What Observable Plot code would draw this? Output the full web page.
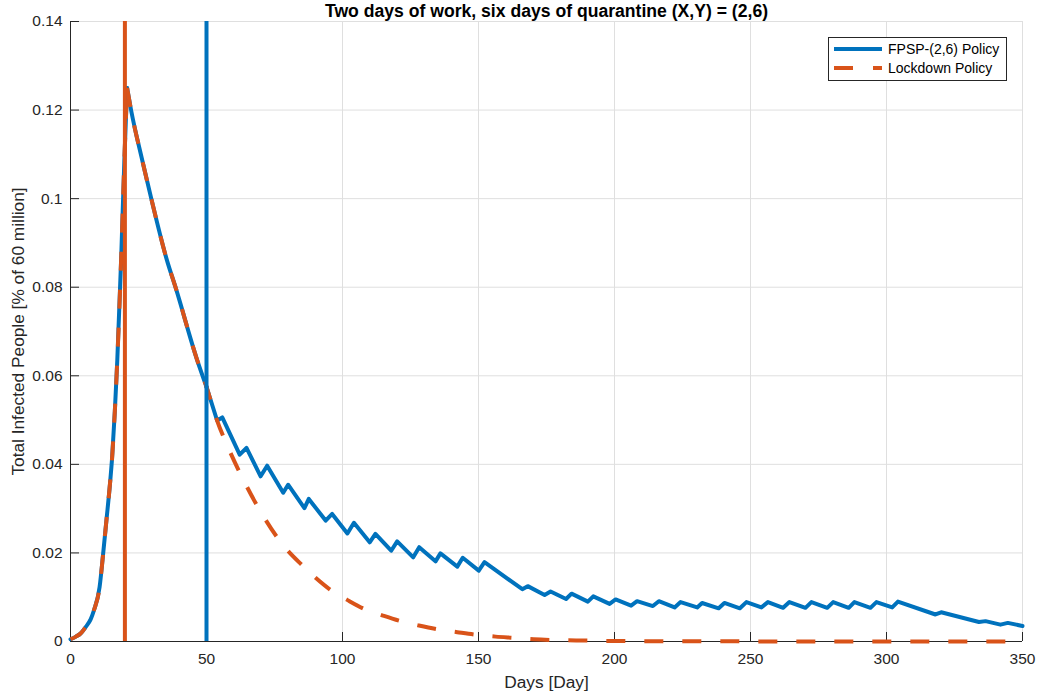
<!DOCTYPE html>
<html><head><meta charset="utf-8">
<script src="https://cdn.jsdelivr.net/npm/d3@7"></script>
<script src="https://cdn.jsdelivr.net/npm/@observablehq/plot@0.6"></script>
<style>
html,body{margin:0;padding:0;background:#fff;}
#wrap{position:relative;width:1037px;height:697px;}
#legend{position:absolute;left:828px;top:37px;width:177px;height:42px;border:1px solid #262626;background:#fff;font-family:"Liberation Sans",Arial,Helvetica,sans-serif;font-size:14px;color:#000;}
.row{position:absolute;left:0;height:18px;display:flex;align-items:center;white-space:nowrap;}
.row svg{margin-left:5px;margin-right:6px;}
</style></head><body><div id="wrap"><div id="legend"></div></div>
<script>
// ---- data ----
const titleText = "Two days of work, six days of quarantine (X,Y) = (2,6)";
const xLabel = "Days [Day]";
const yLabel = "Total Infected People [% of 60 million]";
const seriesNames = ["FPSP-(2,6) Policy", "Lockdown Policy"];
const xTicks = [0, 50, 100, 150, 200, 250, 300, 350];
const yTicks = [0, 0.02, 0.04, 0.06, 0.08, 0.1, 0.12, 0.14];
const yTickLabels = ["0", "0.02", "0.04", "0.06", "0.08", "0.1", "0.12", "0.14"];
const lockdownStartDay = 20;
const lockdownEndDay = 50;

// common part of both curves: rise to the peak ...
const riseDays   = [0, 2, 3.7, 5.5, 7.4, 8.6, 10.7, 12, 13.2, 14.5, 15.3, 16.3, 17.2, 18.6, 19.8, 20.8];
const riseValues = [0.0005, 0.0011, 0.0018, 0.0032, 0.0050, 0.0070, 0.0123, 0.0198, 0.0273, 0.0355, 0.0415, 0.0520, 0.0635, 0.086, 0.1086, 0.125];
// ... and fall until day 50
const fallDays   = [20.8, 22.3, 26.4, 29.7, 35.5, 38.6, 46.6, 50];
const fallValues = [0.125, 0.1199, 0.1086, 0.1, 0.086, 0.080, 0.0635, 0.0575];

// FPSP after day 50
const fpspDays = [50, 53.9, 55.8, 62.2, 64.7, 69.9, 72.3, 78.2, 80.0, 86.0, 87.6, 93.8, 96.2, 101.8, 104.2,
  110.0, 112.1, 117.9, 120.1, 126.0, 128.2, 134.2, 136.0, 142.2, 144.2, 150.1, 152.2, 166.1, 168.1,
  174.3, 176.5, 182.2, 184.2, 190.2, 192.2, 198.2, 200.4, 206.1, 208.3, 214.1, 216.3, 222.1, 224.3,
  230.4, 232.2, 238.3, 240.4, 246.1, 248.5, 254.0, 256.4, 262.0, 264.3, 270.2, 272.4, 278.2, 280.4,
  286.1, 288.2, 294.1, 296.3, 302.1, 304.2, 318.0, 320.1, 334.0, 336.4, 341.9, 344.6, 350];
const fpspValues = [0.0575, 0.0499, 0.0506, 0.0422, 0.0437, 0.0373, 0.0397, 0.0336, 0.0354, 0.0301, 0.0322, 0.0273, 0.0288, 0.0244, 0.0268,
  0.0224, 0.0243, 0.0205, 0.0226, 0.0190, 0.0213, 0.0181, 0.0199, 0.0169, 0.0189, 0.0160, 0.0179, 0.0118, 0.0125,
  0.0105, 0.0113, 0.0096, 0.0108, 0.0090, 0.0102, 0.0085, 0.0095, 0.0081, 0.0091, 0.0080, 0.0091, 0.0077, 0.0089,
  0.0077, 0.0087, 0.0075, 0.0087, 0.0075, 0.0089, 0.0077, 0.0089, 0.0076, 0.0089, 0.0076, 0.0089, 0.0076, 0.0089,
  0.0076, 0.0089, 0.0076, 0.0089, 0.0077, 0.0090, 0.0061, 0.0066, 0.0044, 0.0046, 0.0038, 0.0042, 0.0035];

// Lockdown after day 50
const lockDays = [52, 54, 57.6, 63.4, 70.2, 78.1, 85.2, 90.1, 96.2, 101.7, 108.5, 114.6, 121.9, 128.1, 135.4, 142.2, 149.5, 156.3, 163.6, 170.3, 180, 190, 200, 250, 300, 350];
const lockValues = [0.0535, 0.0497, 0.0443, 0.0367, 0.029, 0.0218, 0.0172, 0.0144, 0.0114, 0.0094, 0.0072, 0.0059, 0.0045, 0.0036, 0.0027, 0.0021, 0.0015, 0.0011, 0.0008, 0.0005, 0.0003, 0.0002, 0.0001, 0.00003, 0.00001, 0];

// ---- build tables ----
const toRows = (ds, vs, seg) => ds.map((d, i) => ({day: d, value: vs[i], seg}));
const fpspSmooth = toRows(riseDays, riseValues, "rise").concat(toRows(fallDays, fallValues, "fall"));
const fpspSaw = toRows(fpspDays, fpspValues, "saw");
const lock = toRows(riseDays, riseValues, "rise")
  .concat(toRows(fallDays.concat(lockDays), fallValues.concat(lockValues), "fall"));

const BLUE = "#0072BD", ORANGE = "#D95319", AX = "#262626", GRID = "#dfdfdf";
const FONT = "'Liberation Sans', Arial, Helvetica, sans-serif";

const chart = Plot.plot({
  width: 1037, height: 697,
  marginLeft: 70, marginRight: 15, marginTop: 21, marginBottom: 56,
  style: {fontFamily: FONT, fontSize: "15.5px", color: AX, background: "#fff", overflow: "visible"},
  x: {domain: [0, 350]},
  y: {domain: [0, 0.14]},
  marks: [
    Plot.gridX(xTicks, {stroke: GRID, strokeOpacity: 1}),
    Plot.gridY(yTicks, {stroke: GRID, strokeOpacity: 1}),
    Plot.ruleY([0], {stroke: AX}),
    Plot.ruleX([0], {stroke: AX}),
    Plot.ruleX(xTicks, {x: d => d, insetTop: 611, stroke: AX}),
    Plot.ruleY(yTicks, {y: d => d, insetRight: 943, stroke: AX}),
    Plot.axisX(xTicks, {tickSize: 0, tickPadding: 11, label: null, fill: AX}),
    Plot.axisY(yTicks, {tickSize: 0, tickPadding: 8, label: null, fill: AX, tickFormat: d => yTickLabels[yTicks.indexOf(d)]}),
    Plot.line(fpspSmooth, {x: "day", y: "value", z: "seg", curve: "monotone-x", stroke: BLUE, strokeWidth: 4}),
    Plot.line(fpspSaw, {x: "day", y: "value", stroke: BLUE, strokeWidth: 4}),
    Plot.line(lock, {x: "day", y: "value", z: "seg", curve: "monotone-x", stroke: ORANGE, strokeWidth: 4, strokeDasharray: "19,19", strokeLinecap: "butt"}),
    Plot.ruleX([lockdownStartDay], {stroke: ORANGE, strokeWidth: 4}),
    Plot.ruleX([lockdownEndDay], {stroke: BLUE, strokeWidth: 4}),
    Plot.text([titleText], {frameAnchor: "top", lineAnchor: "middle", textAnchor: "middle", dy: -10, fontWeight: "bold", fontSize: 17.6, fill: "#000"}),
    Plot.text([xLabel], {frameAnchor: "bottom", lineAnchor: "middle", textAnchor: "middle", dy: 41, fontSize: 17.3, fill: AX}),
    Plot.text([yLabel], {frameAnchor: "left", lineAnchor: "middle", textAnchor: "middle", dx: -52, rotate: -90, fontSize: 17.3, fill: AX})
  ]
});
document.getElementById("wrap").prepend(chart);

// legend
const legend = document.getElementById("legend");
const styles = [{stroke: BLUE, dash: null}, {stroke: ORANGE, dash: "19,20"}];
seriesNames.forEach((name, i) => {
  const row = document.createElement("div");
  row.className = "row";
  row.style.top = (i === 0 ? 2 : 20.5) + "px";
  row.innerHTML = `<svg width="48" height="10"><line x1="0" x2="48" y1="5" y2="5" stroke="${styles[i].stroke}" stroke-width="4" ${styles[i].dash ? `stroke-dasharray="${styles[i].dash}"` : ""}/></svg><span>${name}</span>`;
  legend.appendChild(row);
});
</script>
</body></html>
